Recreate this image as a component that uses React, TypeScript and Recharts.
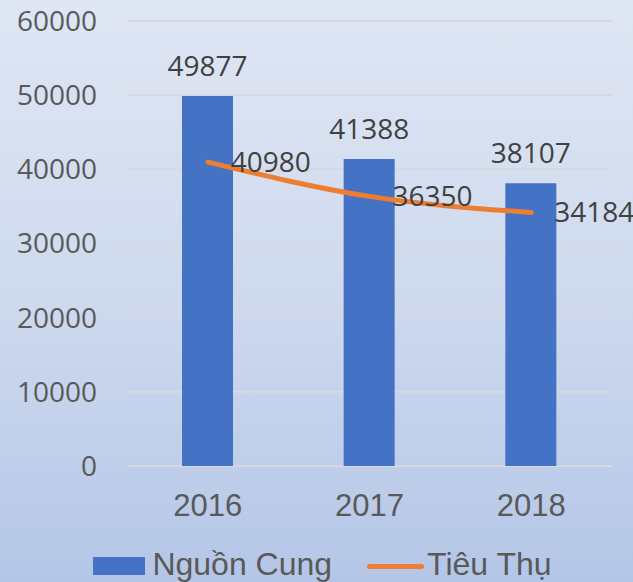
import React from 'react';
import { ComposedChart, Bar, Line, XAxis, YAxis, CartesianGrid, LabelList, Legend } from 'recharts';

const years = ['2016', '2017', '2018'];
const supply = [49877, 41388, 38107];
const consumption = [40980, 36350, 34184];
const yTicks = [0, 10000, 20000, 30000, 40000, 50000, 60000];
const seriesNames = ['Nguồn Cung', 'Tiêu Thụ'];

const data = years.map((y, i) => ({ year: y, supply: supply[i], consumption: consumption[i] }));

const BAR_COLOR = '#4472C4';
const LINE_COLOR = '#ED7D31';
const LABEL_FONT = '"Open Sans", "DejaVu Sans", sans-serif';
const AXIS_FONT = '"Liberation Sans", Arial, sans-serif';

const BarLabel = (props: any) => {
  const { x, y, width, value } = props;
  return (
    <text x={x + width / 2} y={y - 20} textAnchor="middle" fill="#404040" fontSize={28} fontFamily={LABEL_FONT}>
      {value}
    </text>
  );
};

const LineLabel = (props: any) => {
  const { x, y, value } = props;
  return (
    <text x={x + 23} y={y + 10} textAnchor="start" fill="#404040" fontSize={28} fontFamily={LABEL_FONT}>
      {value}
    </text>
  );
};

const LegendContent = () => (
  <div
    style={{
      height: 56,
      display: 'flex',
      justifyContent: 'center',
      alignItems: 'flex-end',
      paddingLeft: 33,
      boxSizing: 'border-box',
      fontFamily: AXIS_FONT,
      fontSize: 32,
      color: '#595959',
      lineHeight: '32px',
    }}
  >
    <div style={{ display: 'flex', alignItems: 'center', marginBottom: 2 }}>
      <span
        style={{ display: 'inline-block', width: 52, height: 18, background: BAR_COLOR, marginRight: 7, position: 'relative', top: 2 }}
      />
      <span>{seriesNames[0]}</span>
    </div>
    <div style={{ display: 'flex', alignItems: 'center', marginLeft: 35, marginBottom: 2 }}>
      <span
        style={{
          display: 'inline-block',
          width: 57,
          height: 5,
          borderRadius: 3,
          background: LINE_COLOR,
          marginRight: 3,
          position: 'relative',
          top: 2,
        }}
      />
      <span>{seriesNames[1]}</span>
    </div>
  </div>
);

export default function App() {
  return (
    <div
      style={{
        position: 'absolute',
        left: 0,
        top: 0,
        width: 633,
        height: 582,
        background: 'linear-gradient(180deg, #dfe6f4 0%, #cfdaee 50%, #b4c6e7 100%)',
        overflow: 'hidden',
      }}
    >
      <ComposedChart width={633} height={582} data={data} margin={{ top: 21, right: 21, bottom: 0, left: 0 }}>
        <CartesianGrid vertical={false} stroke="#d5d9e0" strokeWidth={2} />
        <XAxis
          dataKey="year"
          axisLine={false}
          tickLine={false}
          tickSize={0}
          tickMargin={28}
          height={60}
          tick={{ fill: '#595959', fontSize: 31, fontFamily: AXIS_FONT }}
        />
        <YAxis
          domain={[0, 60000]}
          ticks={yTicks}
          axisLine={false}
          tickLine={false}
          tickSize={0}
          tickMargin={30}
          width={127}
          interval={0}
          tick={{ fill: '#595959', fontSize: 28, fontFamily: LABEL_FONT }}
        />
        <Legend verticalAlign="bottom" height={56} content={<LegendContent />} />
        <Bar dataKey="supply" name={seriesNames[0]} fill={BAR_COLOR} barSize={51} isAnimationActive={false}>
          <LabelList dataKey="supply" content={<BarLabel />} />
        </Bar>
        <Line
          dataKey="consumption"
          name={seriesNames[1]}
          type="monotone"
          stroke={LINE_COLOR}
          strokeWidth={5}
          strokeLinecap="round"
          dot={false}
          activeDot={false}
          isAnimationActive={false}
        >
          <LabelList dataKey="consumption" content={<LineLabel />} />
        </Line>
      </ComposedChart>
    </div>
  );
}
